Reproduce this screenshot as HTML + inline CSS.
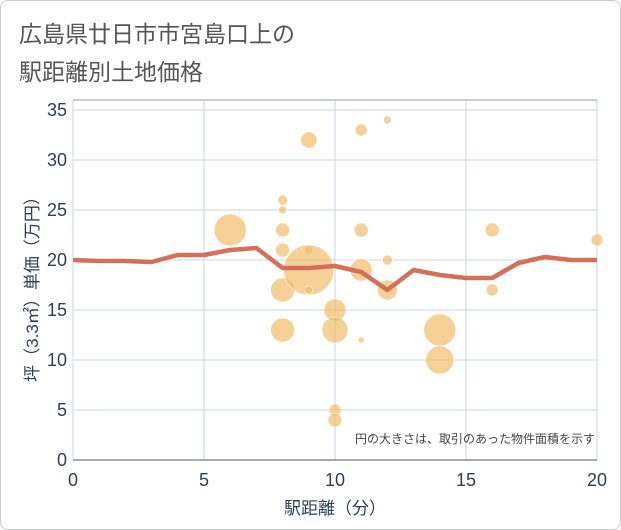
<!DOCTYPE html>
<html><head><meta charset="utf-8"><style>
body{margin:0;background:#fff;font-family:"Liberation Sans","Noto Sans CJK JP",sans-serif;}
#wrap{position:relative;width:619px;height:528px;border:1px solid #ccc;border-radius:8px;overflow:hidden;}
.t{position:absolute;left:18px;color:#555;font-size:23px;}
</style></head><body>
<div id="wrap">
<div class="t" style="top:14px">広島県廿日市市宮島口上の</div>
<div class="t" style="top:52px">駅距離別土地価格</div>
<svg id="c" width="621" height="530" style="position:absolute;left:-1px;top:-1px"></svg>
</div>
<script>
const lineX=[0,1,2,3,4,5,6,7,8,9,10,11,12,13,14,15,16,17,18,19,20];
const lineY=[20,19.9,19.9,19.8,20.5,20.5,21,21.2,19.2,19.2,19.4,18.8,17,19,18.5,18.2,18.2,19.7,20.3,20,20];
const bubX=[6,8,8,8,8,8,8,9,9,9,9,10,10,10,10,11,11,11,11,12,12,12,14,14,16,16,20];
const bubY=[23,26,25,23,21,17,13,32,21,19,17,15,13,5,4,33,23,19,12,34,20,17,13,10,23,17,22];
const bubR=[16,5,4,7,7,12,12,8,4,25,4,11,13,6,7,6,7,11,3,4,5,10,16,14,7,6,6];
const xTicks=[0,5,10,15,20];
const yTicks=[0,5,10,15,20,25,30,35];
const L=73,R=597,T=110,B=460;
const sx=v=>L+(R-L)*v/20, sy=v=>B-(B-T)*v/35;
const svg=document.getElementById('c'),NS='http://www.w3.org/2000/svg';
function mk(tag,a,name,parent){const e=document.createElementNS(NS,tag);for(const k in a)e.setAttribute(k,a[k]);


(parent||svg).appendChild(e);return e;}
mk('rect',{x:L,y:T-10,width:R-L,height:B-T+10,fill:'#fff',stroke:'none'},'plot-area');
for(const v of yTicks){mk('line',{x1:L,x2:R,y1:sy(v),y2:sy(v),stroke:'#c8d4e4','stroke-width':1},'y-gridline');
const t=mk('text',{x:L-6,y:sy(v)+6,'text-anchor':'end','font-size':18,fill:'#2f3f55'},'y-tick-label');t.textContent=v;}
for(const v of xTicks){mk('line',{x1:sx(v),x2:sx(v),y1:T-10,y2:B,stroke:'#c8d4e4','stroke-width':1},'x-gridline');
const t=mk('text',{x:sx(v),y:B+26,'text-anchor':'middle','font-size':18,fill:'#2f3f55'},'x-tick-label');t.textContent=v;}
mk('line',{x1:L,x2:R,y1:T-10,y2:T-10,stroke:'#999'},'plot-top-border');
mk('line',{x1:L,x2:R,y1:B,y2:B,stroke:'#555'},'x-axis-line');
bubX.forEach((x,i)=>mk('circle',{cx:sx(x),cy:sy(bubY[i]),r:bubR[i],fill:'rgba(240,185,95,0.65)',stroke:'#fff','stroke-width':0.6},'bubble'));
mk('polyline',{points:lineX.map((x,i)=>sx(x)+','+sy(lineY[i])).join(' '),fill:'none',stroke:'#d4705a','stroke-width':4.5,'stroke-linejoin':'round'},'average-price-line');
let t=mk('text',{x:595,y:443,'text-anchor':'end','font-size':12,fill:'#444'},'bubble-size-note');t.textContent='円の大きさは、取引のあった物件面積を示す';
t=mk('text',{x:335,y:514,'text-anchor':'middle','font-size':17,fill:'#2f3f55'},'x-axis-title');t.textContent='駅距離（分）';
t=mk('text',{x:0,y:0,'text-anchor':'middle','font-size':17,fill:'#2f3f55',transform:'translate(38,285) rotate(-90)'},'y-axis-title');t.textContent='坪（3.3㎡）単価（万円）';
</script>
</body></html>
